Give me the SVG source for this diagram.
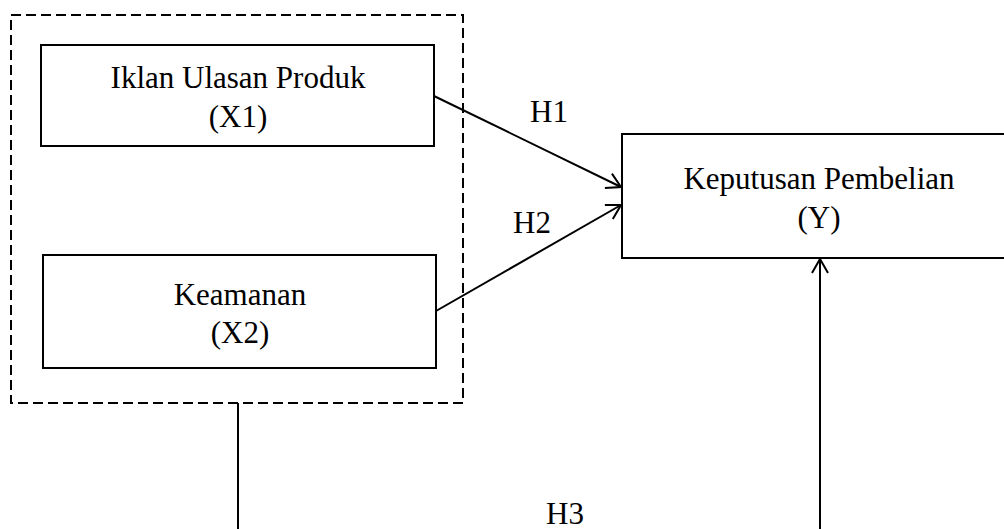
<svg xmlns="http://www.w3.org/2000/svg" width="1004" height="529" viewBox="0 0 1004 529">
<style>
.box{fill:#fff;stroke:#000;stroke-width:2}
.dash{fill:none;stroke:#000;stroke-width:2;stroke-dasharray:10 5}
.ln{fill:none;stroke:#000;stroke-width:2}
text{font-family:"Liberation Serif","Times New Roman",serif;font-size:31px;fill:#000;text-anchor:middle}
</style>
<defs>
<marker id="arr" viewBox="0 0 20 20" refX="18" refY="10" markerWidth="20" markerHeight="20" markerUnits="userSpaceOnUse" orient="auto">
<path d="M4,2 L18,10 L4,18" fill="none" stroke="#000" stroke-width="2"/>
</marker>
</defs>
<g id="group-x">
<rect class="dash" x="11" y="15" width="452" height="388"/>
</g>
<g id="node-x1">
<rect class="box" x="41" y="45" width="393" height="101"/>
<text x="238" y="88">Iklan Ulasan Produk</text>
<text x="238" y="127">(X1)</text>
</g>
<g id="node-x2">
<rect class="box" x="43" y="255" width="393" height="113"/>
<text x="240" y="305">Keamanan</text>
<text x="240" y="343">(X2)</text>
</g>
<g id="node-y">
<rect class="box" x="622" y="134" width="390" height="124"/>
<text x="819" y="189">Keputusan Pembelian</text>
<text x="819" y="228">(Y)</text>
</g>
<g id="connectors">
<line class="ln" x1="434" y1="96" x2="621" y2="187" marker-end="url(#arr)"/>
<line class="ln" x1="436" y1="311" x2="621" y2="205" marker-end="url(#arr)"/>
<line class="ln" x1="238" y1="403" x2="238" y2="529"/>
<line class="ln" x1="820" y1="529" x2="820" y2="259" marker-end="url(#arr)"/>
<text x="549" y="122">H1</text>
<text x="532" y="233">H2</text>
<text x="565" y="524">H3</text>
</g>
</svg>
